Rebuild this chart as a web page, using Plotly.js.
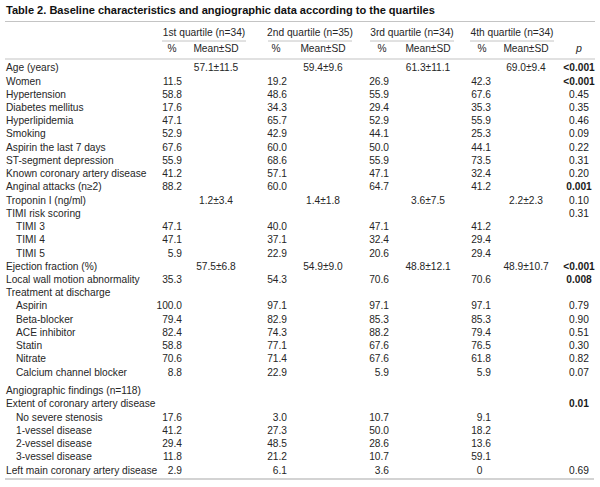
<!DOCTYPE html>
<html>
<head>
<meta charset="utf-8">
<script src="https://cdn.plot.ly/plotly-3.0.1.min.js"></script>
<style>html,body{margin:0;padding:0;background:#fff;}#chart{width:600px;height:487px;}</style>
</head>
<body>
<div id="chart"></div>
<script>
// ---------- DATA ----------
const tableTitle = "Table 2. Baseline characteristics and angiographic data according to the quartiles";
const quartileHeaders = ["1st quartile (n=34)", "2nd quartile (n=35)", "3rd quartile (n=34)", "4th quartile (n=34)"];
const subHeaderPct = "%";
const subHeaderMean = "Mean±SD";
const pHeader = "p";

const rowLabels = [
  "Age (years)", "Women", "Hypertension", "Diabetes mellitus", "Hyperlipidemia", "Smoking",
  "Aspirin the last 7 days", "ST-segment depression", "Known coronary artery disease",
  "Anginal attacks (n≥2)", "Troponin I (ng/ml)", "TIMI risk scoring", "TIMI 3", "TIMI 4", "TIMI 5",
  "Ejection fraction (%)", "Local wall motion abnormality", "Treatment at discharge",
  "Aspirin", "Beta-blocker", "ACE inhibitor", "Statin", "Nitrate", "Calcium channel blocker",
  "Angiographic findings (n=118)", "Extent of coronary artery disease",
  "No severe stenosis", "1-vessel disease", "2-vessel disease", "3-vessel disease",
  "Left main coronary artery disease"
];
// 0 = main item, 1 = sub-item
const rowLevel = [0,0,0,0,0,0,0,0,0,0,0,0,1,1,1,0,0,0,1,1,1,1,1,1,0,0,1,1,1,1,0];
// index of the first row of the angiographic section
const sectionBreak = 24;

const q1Pct = ["", "11.5", "58.8", "17.6", "47.1", "52.9", "67.6", "55.9", "41.2", "88.2", "", "", "47.1", "47.1", "5.9", "", "35.3", "", "100.0", "79.4", "82.4", "58.8", "70.6", "8.8", "", "", "17.6", "41.2", "29.4", "11.8", "2.9"];
const q2Pct = ["", "19.2", "48.6", "34.3", "65.7", "42.9", "60.0", "68.6", "57.1", "60.0", "", "", "40.0", "37.1", "22.9", "", "54.3", "", "97.1", "82.9", "74.3", "77.1", "71.4", "22.9", "", "", "3.0", "27.3", "48.5", "21.2", "6.1"];
const q3Pct = ["", "26.9", "55.9", "29.4", "52.9", "44.1", "50.0", "55.9", "47.1", "64.7", "", "", "47.1", "32.4", "20.6", "", "70.6", "", "97.1", "85.3", "88.2", "67.6", "67.6", "5.9", "", "", "10.7", "50.0", "28.6", "10.7", "3.6"];
const q4Pct = ["", "42.3", "67.6", "35.3", "55.9", "25.3", "44.1", "73.5", "32.4", "41.2", "", "", "41.2", "29.4", "29.4", "", "70.6", "", "97.1", "85.3", "79.4", "76.5", "61.8", "5.9", "", "", "9.1", "18.2", "13.6", "59.1", "0"];

const meanRows = [0, 10, 15];
const q1Mean = ["57.1±11.5", "1.2±3.4", "57.5±6.8"];
const q2Mean = ["59.4±9.6", "1.4±1.8", "54.9±9.0"];
const q3Mean = ["61.3±11.1", "3.6±7.5", "48.8±12.1"];
const q4Mean = ["69.0±9.4", "2.2±2.3", "48.9±10.7"];

const pValues = ["<0.001", "<0.001", "0.45", "0.35", "0.46", "0.09", "0.22", "0.31", "0.20", "0.001", "0.10", "0.31", "", "", "", "<0.001", "0.008", "", "0.79", "0.90", "0.51", "0.30", "0.82", "0.07", "", "0.01", "", "", "", "", "0.69"];

// ---------- LAYOUT CONSTANTS ----------
const W = 600, H = 487;
const FONT = "Liberation Sans, Arial, Helvetica, sans-serif";
const TXT = "#262626";
const LINE = "#c4c4c4";
const rowTop = 68.8, rowStep = 13.23, sectionGap = 5.4;
const labelX = 6, indentX = 16;
const pctRight = [182, 287, 389, 491];
const pctHeadX = [172, 276, 382, 482];
const meanX = [216, 323, 428, 526];
const groupX = [204, 310, 412, 512];
const groupHalf = 42;
const pX = 579;
const titleY = 11, groupY = 33, underY = 41, subY = 49, headLineY = 59, bottomY = 479;
const fsBody = 10.2;

function rowY(i) { return rowTop + rowStep * i + (i >= sectionBreak ? sectionGap : 0); }

const NBSP = "\u00a0";
function decAlign(s) { return (s !== "" && s.indexOf(".") < 0) ? s + NBSP + NBSP + NBSP : s; }
function boldP(s) {
  if (s === "") return s;
  const v = parseFloat(s.replace("<", ""));
  return v < 0.05 ? "<b>" + s.replace("<", "&lt;") + "</b>" : s;
}

const traces = [];
function textTrace(xs, ys, texts, pos, size, color) {
  traces.push({
    type: "scatter", mode: "text", x: xs, y: ys, text: texts,
    textposition: pos, hoverinfo: "skip", cliponaxis: false,
    textfont: { family: FONT, size: size || fsBody, color: color || TXT }
  });
}

// title
textTrace([6], [titleY], ["<b>" + tableTitle + "</b>"], "middle right", 11.05, "#111");
// group headers
textTrace(groupX, groupX.map(() => groupY), quartileHeaders, "middle center");
// sub headers
textTrace(pctHeadX, pctHeadX.map(() => subY), pctHeadX.map(() => subHeaderPct), "middle center");
textTrace(meanX, meanX.map(() => subY), meanX.map(() => subHeaderMean), "middle center");
textTrace([pX], [subY], ["<i>" + pHeader + "</i>"], "middle center", 10.6);

// row labels
textTrace(rowLabels.map((_, i) => rowLevel[i] ? indentX : labelX), rowLabels.map((_, i) => rowY(i)), rowLabels, "middle right");

// percentage columns
[q1Pct, q2Pct, q3Pct, q4Pct].forEach((col, k) => {
  const idx = col.map((v, i) => i).filter(i => col[i] !== "");
  textTrace(idx.map(() => pctRight[k]), idx.map(rowY), idx.map(i => decAlign(col[i])), "middle left");
});
// mean±SD columns
[q1Mean, q2Mean, q3Mean, q4Mean].forEach((col, k) => {
  textTrace(col.map(() => meanX[k]), meanRows.map(rowY), col, "middle center");
});
// p column
{
  const idx = pValues.map((v, i) => i).filter(i => pValues[i] !== "");
  textTrace(idx.map(() => pX), idx.map(rowY), idx.map(i => boldP(pValues[i])), "middle center", fsBody, "#1a1a1a");
}

// rules
const shapes = [
  { type: "line", xref: "x", yref: "y", x0: 5, x1: 595, y0: 21.5, y1: 21.5, line: { color: LINE, width: 1.2 } },
  { type: "line", xref: "x", yref: "y", x0: 5, x1: 595, y0: headLineY, y1: headLineY, line: { color: LINE, width: 1.2 } },
  { type: "line", xref: "x", yref: "y", x0: 5, x1: 594, y0: bottomY, y1: bottomY, line: { color: LINE, width: 1.6 } }
];
groupX.forEach(cx => shapes.push({ type: "line", xref: "x", yref: "y", x0: cx - groupHalf, x1: cx + groupHalf, y0: underY, y1: underY, line: { color: LINE, width: 1 } }));

const layout = {
  width: W, height: H,
  margin: { l: 0, r: 0, t: 0, b: 0, pad: 0 },
  paper_bgcolor: "#fff", plot_bgcolor: "#fff",
  showlegend: false,
  xaxis: { range: [0, W], visible: false, fixedrange: true },
  yaxis: { range: [H, 0], visible: false, fixedrange: true },
  shapes: shapes,
  hovermode: false
};

Plotly.newPlot("chart", traces, layout, { staticPlot: true, displayModeBar: false });
</script>
</body>
</html>
